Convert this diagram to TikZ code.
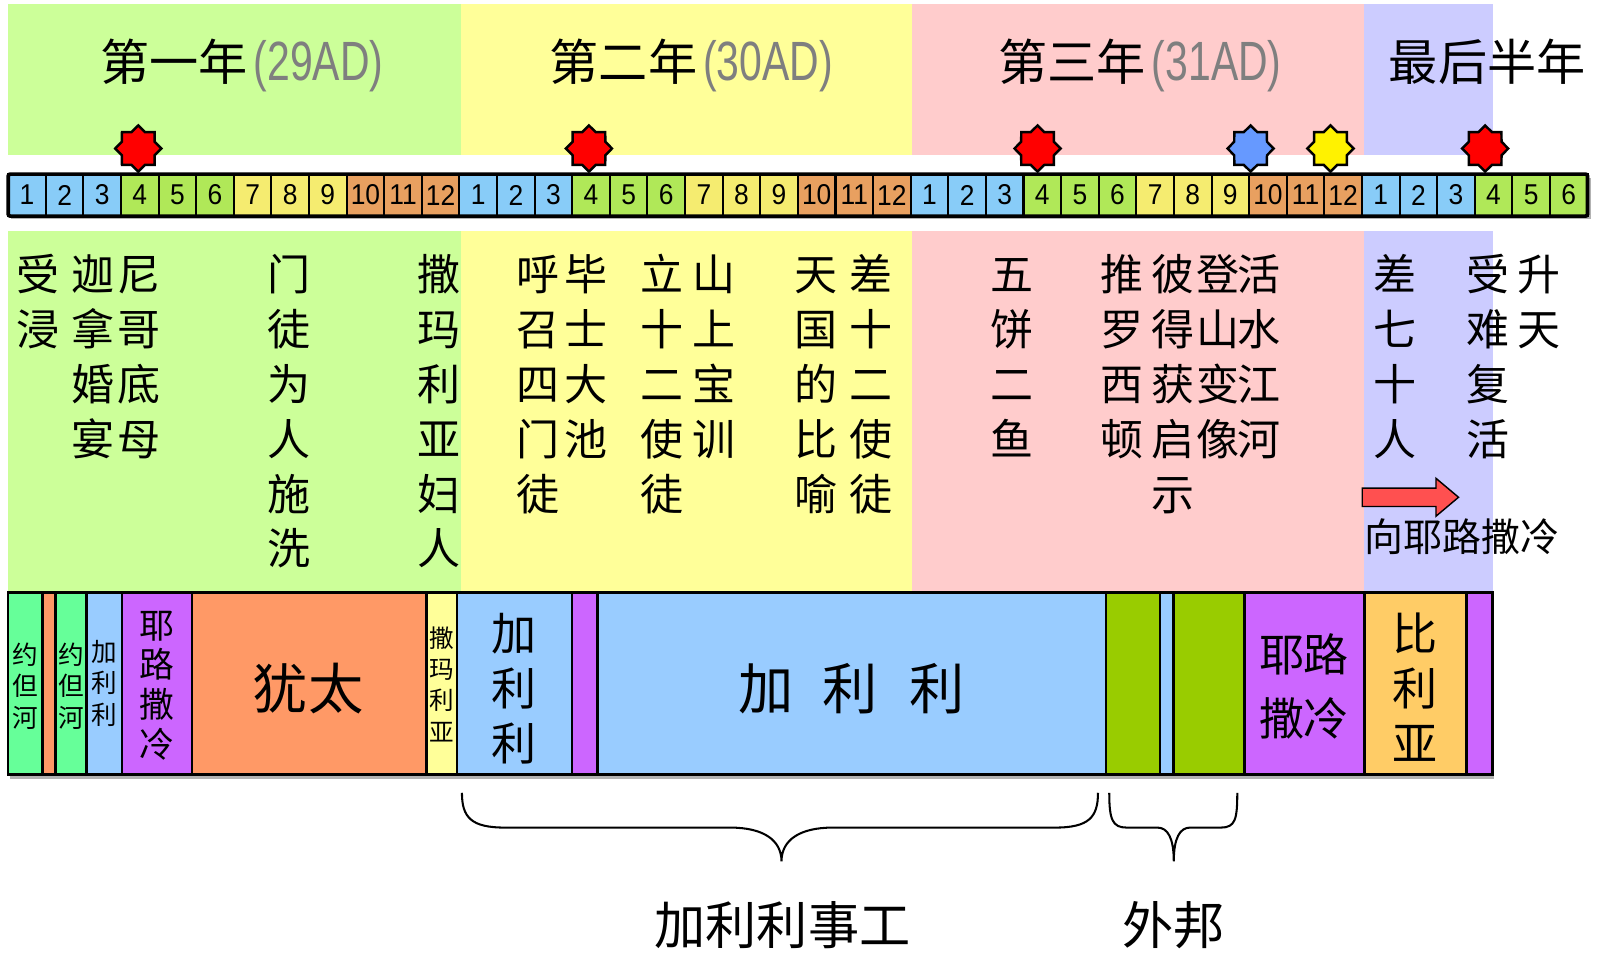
\documentclass[tikz,border=0pt]{standalone}
\usepackage{fontspec}
\setmainfont{Noto Sans CJK SC}
\newfontfamily\arialf[FakeStretch=0.92]{Liberation Sans}
\newfontfamily\narrowf[FakeStretch=0.74]{Liberation Sans}
\usetikzlibrary{shapes.geometric}
\definecolor{hgreen}{HTML}{CCFF99}
\definecolor{hyellow}{HTML}{FFFF99}
\definecolor{hpink}{HTML}{FFCCCC}
\definecolor{hlav}{HTML}{CCCCFF}
\definecolor{mblue}{HTML}{88CCF8}
\definecolor{mgreen}{HTML}{B0E858}
\definecolor{myellow}{HTML}{F5EC70}
\definecolor{morange}{HTML}{E8A060}
\definecolor{rjordan}{HTML}{66FF99}
\definecolor{rorange}{HTML}{FF9966}
\definecolor{rblue}{HTML}{99CCFF}
\definecolor{rpurple}{HTML}{CC66FF}
\definecolor{ryellow}{HTML}{FFFF99}
\definecolor{rgreen}{HTML}{99CC00}
\definecolor{rocher}{HTML}{FFCC66}
\definecolor{arrowred}{HTML}{FF5050}
\definecolor{adgray}{HTML}{7F7F7F}
\definecolor{starblue}{HTML}{6699FF}
\newcommand\vcol[6][cjk=21]{\foreach \c [count=\i] in {#6}{\node[#1] (#2-\i) at (#3,{#4+(\i-1)*#5}) {\c};}}
\newcommand\rbox[3]{\draw[rb, fill=#3] (#1,578.5) rectangle (#2,756);}
\newcommand\adtext[1]{{\narrowf\fontsize{27}{27}\selectfont\color{adgray}#1}}
\tikzset{
  cjk/.style={inner sep=0pt, anchor=base, yshift={-0.38*#1pt}, font=\fontsize{#1}{#1}\selectfont},
  octstar/.style={star, star points=8, star point ratio=1.3, draw=black, line width=1.2pt, minimum size=22.5pt, inner sep=0pt},
  cell/.style={draw=black, line width=1pt, minimum width=18.357pt, minimum height=20.5pt, inner sep=0pt, font=\arialf\fontsize{14}{14}\selectfont},
  rb/.style={draw=black, line width=1.2pt},
  brace/.style={draw=black, line width=1pt}
}
\begin{document}
\begin{tikzpicture}[x=0.5pt,y=-0.5pt]
\useasboundingbox (0,0) rectangle (1568,941);
% year bands
\fill[hgreen] (8,4) rectangle (450,151);
\fill[hyellow] (450,4) rectangle (890,151);
\fill[hpink] (890,4) rectangle (1332,151);
\fill[hlav] (1332,4) rectangle (1458,151);
\fill[hgreen] (8,226) rectangle (450,578.5);
\fill[hyellow] (450,226) rectangle (890,578.5);
\fill[hpink] (890,226) rectangle (1332,578.5);
\fill[hlav] (1332,226) rectangle (1458,578.5);
% headers
\node[cjk=24] (y1) at (236,60) {第一年\hspace{3pt}\adtext{(29AD)}};
\node[cjk=24] (y2) at (675,60) {第二年\hspace{3pt}\adtext{(30AD)}};
\node[cjk=24] (y3) at (1113,60) {第三年\hspace{3pt}\adtext{(31AD)}};
\node[cjk=24] (y4) at (1452,60) {最后半年};
% timeline
\fill[black!30] (11,174) rectangle (1553,214);
\foreach \k in {0,...,41}{
  \pgfmathtruncatemacro\m{mod(\k,12)+1}
  \pgfmathtruncatemacro\q{mod(int(\k/3),4)}
  \ifcase\q \def\cc{mblue}\or \def\cc{mgreen}\or \def\cc{myellow}\or \def\cc{morange}\fi
  \node[cell, fill=\cc] (c\k) at ({8+(\k+0.5)*36.714},190.5) {\m};
}
\draw[line width=1.8pt, rounded corners=1pt] (8,170) rectangle (1550,211);
% stars
\node[octstar, fill=red] (st1) at (135,145) {};
\node[octstar, fill=red] (st2) at (575,145) {};
\node[octstar, fill=red] (st3) at (1013,145) {};
\node[octstar, fill=starblue] (st4) at (1221,145) {};
\node[octstar, fill=yellow] (st5) at (1299,145) {};
\node[octstar, fill=red] (st6) at (1450,145) {};
% events
\vcol{a1}{37}{268}{53.5}{受,浸}
\vcol{a2}{91}{268}{53.5}{迦,拿,婚,宴}
\vcol{a3}{136}{268}{53.5}{尼,哥,底,母}
\vcol{a4}{282}{268}{53.5}{门,徒,为,人,施,洗}
\vcol{a5}{429}{268}{53.5}{撒,玛,利,亚,妇,人}
\vcol{b1}{525}{268}{53.5}{呼,召,四,门,徒}
\vcol{b2}{572}{268}{53.5}{毕,士,大,池}
\vcol{b3}{646}{268}{53.5}{立,十,二,使,徒}
\vcol{b4}{697}{268}{53.5}{山,上,宝,训}
\vcol{b5}{797}{268}{53.5}{天,国,的,比,喻}
\vcol{b6}{850}{268}{53.5}{差,十,二,使,徒}
\vcol{c1}{988}{268}{53.5}{五,饼,二,鱼}
\vcol{c2}{1095}{268}{53.5}{推,罗,西,顿}
\vcol{c3}{1145}{268}{53.5}{彼,得,获,启,示}
\vcol{c4}{1189}{268}{53.5}{登,山,变,像}
\vcol{c5}{1229}{268}{53.5}{活,水,江,河}
\vcol{d1}{1362}{268}{53.5}{差,七,十,人}
\vcol{d2}{1453}{268}{53.5}{受,难,复,活}
\vcol{d3}{1503}{268}{53.5}{升,天}
% arrow
\draw[fill=arrowred, line width=0.7pt, line join=miter] (1330,476.5) -- (1402,476.5) -- (1402,467) -- (1424,485.5) -- (1402,504) -- (1402,494.5) -- (1330,494.5) -- cycle;
\node[cjk=19, anchor=base west] (toJ) at (1332,524) {向耶路撒冷};
% region bar
\fill[black!30] (10,758) rectangle (1459,761);
\rbox{8}{41.6}{rjordan}
\rbox{41.6}{54.3}{rorange}
\rbox{54.3}{84.5}{rjordan}
\rbox{84.5}{119}{rblue}
\rbox{119}{187.5}{rpurple}
\rbox{187.5}{416.4}{rorange}
\rbox{416.4}{446}{ryellow}
\rbox{446}{558.5}{rblue}
\rbox{558.5}{583.5}{rpurple}
\rbox{583.5}{1080}{rblue}
\rbox{1080}{1132.5}{rgreen}
\rbox{1132.5}{1145.5}{rblue}
\rbox{1145.5}{1215}{rgreen}
\rbox{1215}{1332}{rpurple}
\rbox{1332}{1432}{rocher}
\rbox{1432}{1457}{rpurple}
\vcol[cjk=12.5]{j1}{25}{639.5}{30.5}{约,但,河}
\vcol[cjk=12.5]{j2}{70}{639.5}{30.5}{约,但,河}
\vcol[cjk=12.5]{g1}{101.5}{636}{31}{加,利,利}
\vcol[cjk=17]{je1}{153}{610}{39}{耶,路,撒,冷}
\node[cjk=27] (jd) at (301,672) {犹太};
\vcol[cjk=12]{sm}{431}{623}{30.5}{撒,玛,利,亚}
\vcol[cjk=22]{g2}{502}{618}{54}{加,利,利}
\node[cjk=27] (g3a) at (748,672) {加};
\node[cjk=27] (g3b) at (830,672) {利};
\node[cjk=27] (g3c) at (915,672) {利};
\node[cjk=22] (je2a) at (1252,639) {耶};
\node[cjk=22] (je2b) at (1295,639) {路};
\node[cjk=22] (je2c) at (1252,701) {撒};
\node[cjk=22] (je2d) at (1295,701) {冷};
\vcol[cjk=22]{pe}{1382}{618}{54}{比,利,亚}
% braces
\draw[brace] (451,774) .. controls (451,798) and (460,808) .. (493,808) -- (713,808) .. controls (745,808) and (763,820) .. (763,841) .. controls (763,820) and (781,808) .. (813,808) -- (1030,808) .. controls (1063,808) and (1072,798) .. (1072,774);
\draw[brace] (1083,774) .. controls (1083,800) and (1086,808) .. (1100,808) -- (1130,808) .. controls (1140,808) and (1146,818) .. (1146,841) .. controls (1146,818) and (1152,808) .. (1162,808) -- (1192,808) .. controls (1206,808) and (1208,800) .. (1208,774);
\node[cjk=25] (lab1) at (764,903) {加利利事工};
\node[cjk=25] (lab2) at (1146,903) {外邦};
\end{tikzpicture}
\end{document}
